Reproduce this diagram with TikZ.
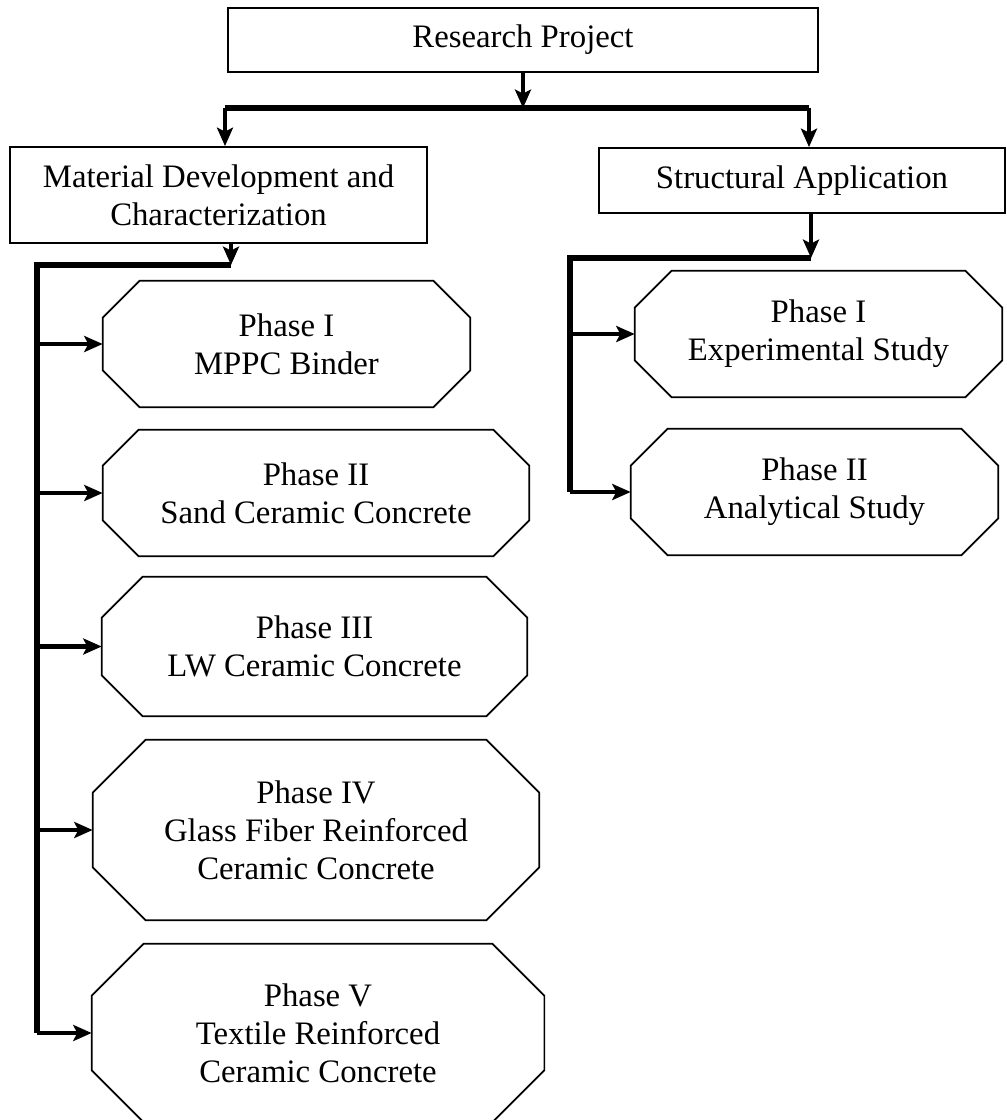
\documentclass[tikz,border=0pt]{standalone}
\usepackage{fontspec}
\setmainfont{Liberation Serif}
\usetikzlibrary{arrows.meta,calc}

\begin{document}
\begin{tikzpicture}[x=0.025cm,y=-0.025cm]
\tikzstyle{box}=[draw,line width=1.3pt,inner sep=0pt,align=center,font=\fontsize{23.3}{27}\selectfont]
\tikzstyle{octbox}=[inner sep=0pt,align=center,font=\fontsize{23.3}{27}\selectfont]
\tikzstyle{outline}=[line width=1.2pt,line join=miter]
\tikzstyle{arr}=[line width=3.3pt,-{Stealth[length=0.46cm,width=0.4cm,inset=0.1cm]}]
\tikzstyle{bar}=[line width=3.8pt,line join=miter]
\useasboundingbox (0,0) rectangle (1007,1120);

% top level
\node[box,minimum width=14.75cm,minimum height=1.6cm] (rp) at (523,40) {Research Project};
\node[box,minimum width=10.425cm,minimum height=2.4cm] (mdc) at (218.5,195) {Material Development and\\Characterization};
\node[box,minimum width=10.15cm,minimum height=1.625cm] (sa) at (802,180.5) {Structural Application};

% material phases
\node[octbox,minimum width=9.175cm,minimum height=3.15cm] (l1) at (286.5,344) {Phase I\\MPPC Binder};
\node[octbox,minimum width=10.65cm,minimum height=3.15cm] (l2) at (316,493) {Phase II\\Sand Ceramic Concrete};
\node[octbox,minimum width=10.625cm,minimum height=3.475cm] (l3) at (314.5,646.5) {Phase III\\LW Ceramic Concrete};
\node[octbox,minimum width=11.15cm,minimum height=4.5cm] (l4) at (316,830) {Phase IV\\Glass Fiber Reinforced\\Ceramic Concrete};
\node[octbox,minimum width=11.3cm,minimum height=4.45cm] (l5) at (318,1033) {Phase V\\Textile Reinforced\\Ceramic Concrete};

% structural phases
\node[octbox,minimum width=9.175cm,minimum height=3.15cm] (r1) at (818.5,334) {Phase I\\Experimental Study};
\node[octbox,minimum width=9.175cm,minimum height=3.15cm] (r2) at (814.5,492) {Phase II\\Analytical Study};

% cut corners
\foreach \n/\c in {l1/37,l2/36,l3/41,l4/53,l5/52,r1/37,r2/37}
  \draw[outline] ($(\n.north west)+(\c,0)$) -- ($(\n.north east)+(-\c,0)$) -- ($(\n.north east)+(0,\c)$)
    -- ($(\n.south east)+(0,-\c)$) -- ($(\n.south east)+(-\c,0)$) -- ($(\n.south west)+(\c,0)$)
    -- ($(\n.south west)+(0,-\c)$) -- ($(\n.north west)+(0,\c)$) -- cycle;

% connectors
\coordinate (tl) at (225,108);
\coordinate (tr) at (809,108);
\coordinate (lj) at (231,265);
\coordinate (lc) at (37,265);
\coordinate (rj) at (811,258);
\coordinate (rc) at (570,258);

\draw[arr] (rp.south) -- (rp.south |- tl);
\draw[bar] (tl) -- (tr);
\draw[arr] (tl) -- (tl |- mdc.north);
\draw[arr] (tr) -- (tr |- sa.north);

\draw[arr] (lj |- mdc.south) -- (lj);
\draw[bar] (lj) -- (lc) -- (lc |- l5.west);
\foreach \n in {l1,l2,l3,l4,l5}
  \draw[arr] (lc |- \n.west) -- (\n.west);

\draw[arr] (rj |- sa.south) -- (rj);
\draw[bar] (rj) -- (rc) -- (rc |- r2.west);
\foreach \n in {r1,r2}
  \draw[arr] (rc |- \n.west) -- (\n.west);
\end{tikzpicture}
\end{document}
